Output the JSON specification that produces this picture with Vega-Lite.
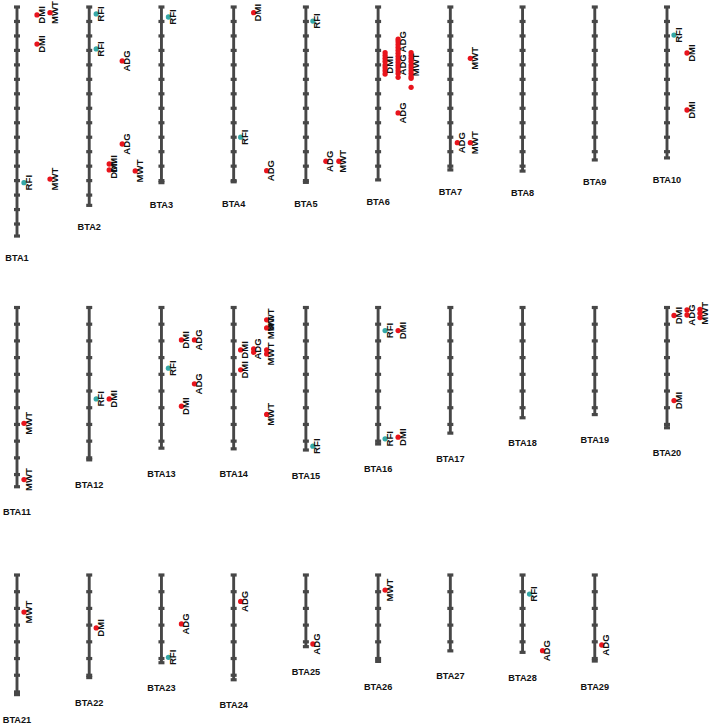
{
  "$schema": "https://vega.github.io/schema/vega-lite/v6.json",
  "autosize": {"type": "none"},
  "padding": {"left": 17, "top": 7, "right": 692, "bottom": 718},
  "background": "white",
  "bounds": "flush",
  "spacing": 68.5,
  "resolve": {"scale": {"y": "independent"}},
  "config": {"view": {"stroke": null}},
  "datasets": {
    "chroms": [
      {"chr": 1, "name": "BTA1", "length": 158.3, "ticks": [0,10,20,30,40,50,60,70,80,90,100,110,120,130,140,150]},
      {"chr": 2, "name": "BTA2", "length": 137.1, "ticks": [0,10,20,30,40,50,60,70,80,90,100,110,120,130]},
      {"chr": 3, "name": "BTA3", "length": 121.4, "ticks": [0,10,20,30,40,50,60,70,80,90,100,110,120]},
      {"chr": 4, "name": "BTA4", "length": 120.8, "ticks": [0,10,20,30,40,50,60,70,80,90,100,110,120]},
      {"chr": 5, "name": "BTA5", "length": 121.2, "ticks": [0,10,20,30,40,50,60,70,80,90,100,110,120]},
      {"chr": 6, "name": "BTA6", "length": 119.5, "ticks": [0,10,20,30,40,50,60,70,80,90,100,110]},
      {"chr": 7, "name": "BTA7", "length": 112.6, "ticks": [0,10,20,30,40,50,60,70,80,90,100,110]},
      {"chr": 8, "name": "BTA8", "length": 113.4, "ticks": [0,10,20,30,40,50,60,70,80,90,100,110]},
      {"chr": 9, "name": "BTA9", "length": 105.7, "ticks": [0,10,20,30,40,50,60,70,80,90,100]},
      {"chr": 10, "name": "BTA10", "length": 104.3, "ticks": [0,10,20,30,40,50,60,70,80,90,100]},
      {"chr": 11, "name": "BTA11", "length": 107.3, "ticks": [0,10,20,30,40,50,60,70,80,90,100]},
      {"chr": 12, "name": "BTA12", "length": 91.2, "ticks": [0,10,20,30,40,50,60,70,80,90]},
      {"chr": 13, "name": "BTA13", "length": 84.2, "ticks": [0,10,20,30,40,50,60,70,80]},
      {"chr": 14, "name": "BTA14", "length": 84.6, "ticks": [0,10,20,30,40,50,60,70,80]},
      {"chr": 15, "name": "BTA15", "length": 85.3, "ticks": [0,10,20,30,40,50,60,70,80]},
      {"chr": 16, "name": "BTA16", "length": 81.7, "ticks": [0,10,20,30,40,50,60,70,80]},
      {"chr": 17, "name": "BTA17", "length": 75.2, "ticks": [0,10,20,30,40,50,60,70]},
      {"chr": 18, "name": "BTA18", "length": 66.0, "ticks": [0,10,20,30,40,50,60]},
      {"chr": 19, "name": "BTA19", "length": 64.1, "ticks": [0,10,20,30,40,50,60]},
      {"chr": 20, "name": "BTA20", "length": 72.0, "ticks": [0,10,20,30,40,50,60,70]},
      {"chr": 21, "name": "BTA21", "length": 71.6, "ticks": [0,10,20,30,40,50,60,70]},
      {"chr": 22, "name": "BTA22", "length": 61.4, "ticks": [0,10,20,30,40,50,60]},
      {"chr": 23, "name": "BTA23", "length": 52.5, "ticks": [0,10,20,30,40,50]},
      {"chr": 24, "name": "BTA24", "length": 62.7, "ticks": [0,10,20,30,40,50,60]},
      {"chr": 25, "name": "BTA25", "length": 42.9, "ticks": [0,10,20,30,40]},
      {"chr": 26, "name": "BTA26", "length": 51.7, "ticks": [0,10,20,30,40,50]},
      {"chr": 27, "name": "BTA27", "length": 45.4, "ticks": [0,10,20,30,40]},
      {"chr": 28, "name": "BTA28", "length": 46.3, "ticks": [0,10,20,30,40]},
      {"chr": 29, "name": "BTA29", "length": 51.5, "ticks": [0,10,20,30,40,50]}
    ],
    "qtl": [
      {"chr": 1, "trait": "DMI", "mb": 5.5},
      {"chr": 1, "trait": "MWT", "mb": 3.9},
      {"chr": 1, "trait": "DMI", "mb": 25.6},
      {"chr": 1, "trait": "RFI", "mb": 121.4},
      {"chr": 1, "trait": "MWT", "mb": 118.9},
      {"chr": 2, "trait": "RFI", "mb": 4.8},
      {"chr": 2, "trait": "RFI", "mb": 29.0},
      {"chr": 2, "trait": "ADG", "mb": 37.3},
      {"chr": 2, "trait": "ADG", "mb": 94.7},
      {"chr": 2, "trait": "DMI", "mb": 108.5},
      {"chr": 2, "trait": "DMI", "mb": 112.6},
      {"chr": 2, "trait": "MWT", "mb": 113.3},
      {"chr": 3, "trait": "RFI", "mb": 6.9},
      {"chr": 4, "trait": "DMI", "mb": 3.9},
      {"chr": 4, "trait": "RFI", "mb": 90.0},
      {"chr": 4, "trait": "ADG", "mb": 113.1},
      {"chr": 5, "trait": "RFI", "mb": 9.7},
      {"chr": 5, "trait": "ADG", "mb": 106.6},
      {"chr": 5, "trait": "MWT", "mb": 106.6},
      {"chr": 6, "trait": "DMI", "mb": 31.6, "lead": false},
      {"chr": 6, "trait": "DMI", "mb": 33.6, "lead": false},
      {"chr": 6, "trait": "DMI", "mb": 35.6, "lead": false},
      {"chr": 6, "trait": "DMI", "mb": 37.6, "lead": false},
      {"chr": 6, "trait": "DMI", "mb": 40.0},
      {"chr": 6, "trait": "DMI", "mb": 42.0, "lead": false},
      {"chr": 6, "trait": "DMI", "mb": 44.0, "lead": false},
      {"chr": 6, "trait": "DMI", "mb": 46.3, "lead": false},
      {"chr": 6, "trait": "ADG", "mb": 22.3, "lead": false},
      {"chr": 6, "trait": "ADG", "mb": 24.0},
      {"chr": 6, "trait": "ADG", "mb": 26.0, "lead": false},
      {"chr": 6, "trait": "ADG", "mb": 28.0, "lead": false},
      {"chr": 6, "trait": "ADG", "mb": 30.0, "lead": false},
      {"chr": 6, "trait": "ADG", "mb": 32.0, "lead": false},
      {"chr": 6, "trait": "ADG", "mb": 34.0, "lead": false},
      {"chr": 6, "trait": "ADG", "mb": 36.0, "lead": false},
      {"chr": 6, "trait": "ADG", "mb": 38.0, "lead": false},
      {"chr": 6, "trait": "ADG", "mb": 40.0},
      {"chr": 6, "trait": "ADG", "mb": 42.0, "lead": false},
      {"chr": 6, "trait": "ADG", "mb": 44.0, "lead": false},
      {"chr": 6, "trait": "ADG", "mb": 46.0, "lead": false},
      {"chr": 6, "trait": "ADG", "mb": 48.6, "lead": false},
      {"chr": 6, "trait": "MWT", "mb": 31.6, "lead": false},
      {"chr": 6, "trait": "MWT", "mb": 33.6, "lead": false},
      {"chr": 6, "trait": "MWT", "mb": 35.6, "lead": false},
      {"chr": 6, "trait": "MWT", "mb": 37.6, "lead": false},
      {"chr": 6, "trait": "MWT", "mb": 40.0},
      {"chr": 6, "trait": "MWT", "mb": 42.0, "lead": false},
      {"chr": 6, "trait": "MWT", "mb": 44.0, "lead": false},
      {"chr": 6, "trait": "MWT", "mb": 46.0, "lead": false},
      {"chr": 6, "trait": "MWT", "mb": 48.0, "lead": false},
      {"chr": 6, "trait": "MWT", "mb": 49.3, "lead": false},
      {"chr": 6, "trait": "MWT", "mb": 55.5, "lead": false},
      {"chr": 6, "trait": "ADG", "mb": 73.2},
      {"chr": 7, "trait": "MWT", "mb": 35.5},
      {"chr": 7, "trait": "ADG", "mb": 93.8},
      {"chr": 7, "trait": "MWT", "mb": 93.8},
      {"chr": 10, "trait": "RFI", "mb": 19.4},
      {"chr": 10, "trait": "DMI", "mb": 31.8},
      {"chr": 10, "trait": "DMI", "mb": 71.2},
      {"chr": 11, "trait": "MWT", "mb": 69.3},
      {"chr": 11, "trait": "MWT", "mb": 103.0},
      {"chr": 12, "trait": "RFI", "mb": 54.7},
      {"chr": 12, "trait": "DMI", "mb": 54.7},
      {"chr": 13, "trait": "DMI", "mb": 19.4},
      {"chr": 13, "trait": "ADG", "mb": 19.4},
      {"chr": 13, "trait": "RFI", "mb": 36.3},
      {"chr": 13, "trait": "ADG", "mb": 45.7},
      {"chr": 13, "trait": "DMI", "mb": 59.1},
      {"chr": 14, "trait": "MWT", "mb": 7.4},
      {"chr": 14, "trait": "MWT", "mb": 12.2},
      {"chr": 14, "trait": "DMI", "mb": 25.4},
      {"chr": 14, "trait": "ADG", "mb": 24.8},
      {"chr": 14, "trait": "ADG", "mb": 26.8, "lead": false},
      {"chr": 14, "trait": "MWT", "mb": 25.4, "lead": false},
      {"chr": 14, "trait": "MWT", "mb": 27.8},
      {"chr": 14, "trait": "DMI", "mb": 37.3},
      {"chr": 14, "trait": "MWT", "mb": 64.0},
      {"chr": 15, "trait": "RFI", "mb": 83.0},
      {"chr": 16, "trait": "RFI", "mb": 13.8},
      {"chr": 16, "trait": "DMI", "mb": 13.8},
      {"chr": 16, "trait": "RFI", "mb": 78.6},
      {"chr": 16, "trait": "DMI", "mb": 77.6},
      {"chr": 20, "trait": "DMI", "mb": 4.8},
      {"chr": 20, "trait": "ADG", "mb": 1.5, "lead": false},
      {"chr": 20, "trait": "ADG", "mb": 4.5},
      {"chr": 20, "trait": "MWT", "mb": 1.2, "lead": false},
      {"chr": 20, "trait": "MWT", "mb": 3.5},
      {"chr": 20, "trait": "MWT", "mb": 6.0, "lead": false},
      {"chr": 20, "trait": "DMI", "mb": 55.7},
      {"chr": 21, "trait": "MWT", "mb": 22.2},
      {"chr": 22, "trait": "DMI", "mb": 31.7},
      {"chr": 23, "trait": "ADG", "mb": 29.3},
      {"chr": 23, "trait": "RFI", "mb": 49.3},
      {"chr": 24, "trait": "ADG", "mb": 15.8},
      {"chr": 25, "trait": "ADG", "mb": 41.3},
      {"chr": 26, "trait": "MWT", "mb": 9.0},
      {"chr": 28, "trait": "RFI", "mb": 11.4},
      {"chr": 28, "trait": "ADG", "mb": 45.3},
      {"chr": 29, "trait": "ADG", "mb": 41.9}
    ]
  },
  "vconcat": [
    {
      "width": 650, "height": 231.5,
      "layer": [
        {"data": {"name": "chroms"},
         "transform": [{"calculate": "floor((datum.chr-1)/10)", "as": "row"}, {"calculate": "(datum.chr-1)%10", "as": "col"}, {"filter": "datum.row == 0"}],
         "mark": {"type": "rule", "color": "#474747", "strokeWidth": 2.9},
         "encoding": {
           "x": {"field": "col", "type": "quantitative", "scale": {"domain": [0, 9], "nice": false, "zero": false}, "axis": null},
           "y": {"field": "length", "type": "quantitative", "scale": {"domain": [0, 160], "reverse": true, "nice": false, "zero": false}, "axis": null},
           "y2": {"datum": 0}}},
        {"data": {"name": "chroms"},
         "transform": [{"calculate": "floor((datum.chr-1)/10)", "as": "row"}, {"calculate": "(datum.chr-1)%10", "as": "col"}, {"filter": "datum.row == 0"}, {"flatten": ["ticks"], "as": ["tick"]}],
         "mark": {"type": "tick", "orient": "horizontal", "color": "#474747", "size": 6, "thickness": 3.2, "opacity": 1},
         "encoding": {
           "x": {"field": "col", "type": "quantitative", "axis": null},
           "y": {"field": "tick", "type": "quantitative", "axis": null}}},
        {"data": {"name": "chroms"},
         "transform": [{"calculate": "floor((datum.chr-1)/10)", "as": "row"}, {"calculate": "(datum.chr-1)%10", "as": "col"}, {"filter": "datum.row == 0"}],
         "mark": {"type": "tick", "orient": "horizontal", "color": "#474747", "size": 6, "thickness": 3.2, "opacity": 1},
         "encoding": {
           "x": {"field": "col", "type": "quantitative", "axis": null},
           "y": {"field": "length", "type": "quantitative", "axis": null}}},
        {"data": {"name": "qtl"},
         "transform": [{"calculate": "indexof(['RFI','DMI','ADG','MWT'], datum.trait)", "as": "torder"}, {"window": [{"op": "dense_rank", "as": "lane"}], "groupby": ["chr"], "sort": [{"field": "torder"}]}, {"calculate": "floor((datum.chr-1)/10)", "as": "row"}, {"calculate": "(datum.chr-1)%10 + (7 + 13*(datum.lane-1))/72.22", "as": "xpos"}, {"filter": "datum.row == 0"}],
         "mark": {"type": "circle", "size": 28, "opacity": 1},
         "encoding": {
           "x": {"field": "xpos", "type": "quantitative", "axis": null},
           "y": {"field": "mb", "type": "quantitative", "axis": null},
           "color": {"field": "trait", "type": "nominal", "scale": {"domain": ["RFI", "DMI", "ADG", "MWT"], "range": ["#35a7a7", "#e8141c", "#e8141c", "#e8141c"]}, "legend": null}}},
        {"data": {"name": "qtl"},
         "transform": [{"calculate": "indexof(['RFI','DMI','ADG','MWT'], datum.trait)", "as": "torder"}, {"window": [{"op": "dense_rank", "as": "lane"}], "groupby": ["chr"], "sort": [{"field": "torder"}]}, {"calculate": "floor((datum.chr-1)/10)", "as": "row"}, {"calculate": "(datum.chr-1)%10 + (7 + 13*(datum.lane-1))/72.22", "as": "xpos"}, {"filter": "datum.row == 0 && datum.lead !== false"}],
         "mark": {"type": "text", "angle": 270, "align": "center", "baseline": "middle", "dy": 4.5, "font": "Liberation Sans", "fontWeight": "bold", "fontSize": 9.6, "color": "#111111"},
         "encoding": {
           "x": {"field": "xpos", "type": "quantitative", "axis": null},
           "y": {"field": "mb", "type": "quantitative", "axis": null},
           "text": {"field": "trait"}}},
        {"data": {"name": "chroms"},
         "transform": [{"calculate": "floor((datum.chr-1)/10)", "as": "row"}, {"calculate": "(datum.chr-1)%10", "as": "col"}, {"filter": "datum.row == 0"}],
         "mark": {"type": "text", "align": "center", "baseline": "middle", "dy": 22, "font": "Liberation Sans", "fontWeight": "bold", "fontSize": 9.2, "color": "#111111"},
         "encoding": {
           "x": {"field": "col", "type": "quantitative", "axis": null},
           "y": {"field": "length", "type": "quantitative", "axis": null},
           "text": {"field": "name"}}}
      ]
    },
    {
      "width": 650, "height": 198.8,
      "layer": [
        {"data": {"name": "chroms"},
         "transform": [{"calculate": "floor((datum.chr-1)/10)", "as": "row"}, {"calculate": "(datum.chr-1)%10", "as": "col"}, {"filter": "datum.row == 1"}],
         "mark": {"type": "rule", "color": "#474747", "strokeWidth": 2.9},
         "encoding": {
           "x": {"field": "col", "type": "quantitative", "scale": {"domain": [0, 9], "nice": false, "zero": false}, "axis": null},
           "y": {"field": "length", "type": "quantitative", "scale": {"domain": [0, 119], "reverse": true, "nice": false, "zero": false}, "axis": null},
           "y2": {"datum": 0}}},
        {"data": {"name": "chroms"},
         "transform": [{"calculate": "floor((datum.chr-1)/10)", "as": "row"}, {"calculate": "(datum.chr-1)%10", "as": "col"}, {"filter": "datum.row == 1"}, {"flatten": ["ticks"], "as": ["tick"]}],
         "mark": {"type": "tick", "orient": "horizontal", "color": "#474747", "size": 6, "thickness": 3.2, "opacity": 1},
         "encoding": {
           "x": {"field": "col", "type": "quantitative", "axis": null},
           "y": {"field": "tick", "type": "quantitative", "axis": null}}},
        {"data": {"name": "chroms"},
         "transform": [{"calculate": "floor((datum.chr-1)/10)", "as": "row"}, {"calculate": "(datum.chr-1)%10", "as": "col"}, {"filter": "datum.row == 1"}],
         "mark": {"type": "tick", "orient": "horizontal", "color": "#474747", "size": 6, "thickness": 3.2, "opacity": 1},
         "encoding": {
           "x": {"field": "col", "type": "quantitative", "axis": null},
           "y": {"field": "length", "type": "quantitative", "axis": null}}},
        {"data": {"name": "qtl"},
         "transform": [{"calculate": "indexof(['RFI','DMI','ADG','MWT'], datum.trait)", "as": "torder"}, {"window": [{"op": "dense_rank", "as": "lane"}], "groupby": ["chr"], "sort": [{"field": "torder"}]}, {"calculate": "floor((datum.chr-1)/10)", "as": "row"}, {"calculate": "(datum.chr-1)%10 + (7 + 13*(datum.lane-1))/72.22", "as": "xpos"}, {"filter": "datum.row == 1"}],
         "mark": {"type": "circle", "size": 28, "opacity": 1},
         "encoding": {
           "x": {"field": "xpos", "type": "quantitative", "axis": null},
           "y": {"field": "mb", "type": "quantitative", "axis": null},
           "color": {"field": "trait", "type": "nominal", "scale": {"domain": ["RFI", "DMI", "ADG", "MWT"], "range": ["#35a7a7", "#e8141c", "#e8141c", "#e8141c"]}, "legend": null}}},
        {"data": {"name": "qtl"},
         "transform": [{"calculate": "indexof(['RFI','DMI','ADG','MWT'], datum.trait)", "as": "torder"}, {"window": [{"op": "dense_rank", "as": "lane"}], "groupby": ["chr"], "sort": [{"field": "torder"}]}, {"calculate": "floor((datum.chr-1)/10)", "as": "row"}, {"calculate": "(datum.chr-1)%10 + (7 + 13*(datum.lane-1))/72.22", "as": "xpos"}, {"filter": "datum.row == 1 && datum.lead !== false"}],
         "mark": {"type": "text", "angle": 270, "align": "center", "baseline": "middle", "dy": 4.5, "font": "Liberation Sans", "fontWeight": "bold", "fontSize": 9.6, "color": "#111111"},
         "encoding": {
           "x": {"field": "xpos", "type": "quantitative", "axis": null},
           "y": {"field": "mb", "type": "quantitative", "axis": null},
           "text": {"field": "trait"}}},
        {"data": {"name": "chroms"},
         "transform": [{"calculate": "floor((datum.chr-1)/10)", "as": "row"}, {"calculate": "(datum.chr-1)%10", "as": "col"}, {"filter": "datum.row == 1"}],
         "mark": {"type": "text", "align": "center", "baseline": "middle", "dy": 25.5, "font": "Liberation Sans", "fontWeight": "bold", "fontSize": 9.2, "color": "#111111"},
         "encoding": {
           "x": {"field": "col", "type": "quantitative", "axis": null},
           "y": {"field": "length", "type": "quantitative", "axis": null},
           "text": {"field": "name"}}}
      ]
    },
    {
      "width": 650, "height": 125.3,
      "layer": [
        {"data": {"name": "chroms"},
         "transform": [{"calculate": "floor((datum.chr-1)/10)", "as": "row"}, {"calculate": "(datum.chr-1)%10", "as": "col"}, {"filter": "datum.row == 2"}],
         "mark": {"type": "rule", "color": "#474747", "strokeWidth": 2.9},
         "encoding": {
           "x": {"field": "col", "type": "quantitative", "scale": {"domain": [0, 9], "nice": false, "zero": false}, "axis": null},
           "y": {"field": "length", "type": "quantitative", "scale": {"domain": [0, 75], "reverse": true, "nice": false, "zero": false}, "axis": null},
           "y2": {"datum": 0}}},
        {"data": {"name": "chroms"},
         "transform": [{"calculate": "floor((datum.chr-1)/10)", "as": "row"}, {"calculate": "(datum.chr-1)%10", "as": "col"}, {"filter": "datum.row == 2"}, {"flatten": ["ticks"], "as": ["tick"]}],
         "mark": {"type": "tick", "orient": "horizontal", "color": "#474747", "size": 6, "thickness": 3.2, "opacity": 1},
         "encoding": {
           "x": {"field": "col", "type": "quantitative", "axis": null},
           "y": {"field": "tick", "type": "quantitative", "axis": null}}},
        {"data": {"name": "chroms"},
         "transform": [{"calculate": "floor((datum.chr-1)/10)", "as": "row"}, {"calculate": "(datum.chr-1)%10", "as": "col"}, {"filter": "datum.row == 2"}],
         "mark": {"type": "tick", "orient": "horizontal", "color": "#474747", "size": 6, "thickness": 3.2, "opacity": 1},
         "encoding": {
           "x": {"field": "col", "type": "quantitative", "axis": null},
           "y": {"field": "length", "type": "quantitative", "axis": null}}},
        {"data": {"name": "qtl"},
         "transform": [{"calculate": "indexof(['RFI','DMI','ADG','MWT'], datum.trait)", "as": "torder"}, {"window": [{"op": "dense_rank", "as": "lane"}], "groupby": ["chr"], "sort": [{"field": "torder"}]}, {"calculate": "floor((datum.chr-1)/10)", "as": "row"}, {"calculate": "(datum.chr-1)%10 + (7 + 13*(datum.lane-1))/72.22", "as": "xpos"}, {"filter": "datum.row == 2"}],
         "mark": {"type": "circle", "size": 28, "opacity": 1},
         "encoding": {
           "x": {"field": "xpos", "type": "quantitative", "axis": null},
           "y": {"field": "mb", "type": "quantitative", "axis": null},
           "color": {"field": "trait", "type": "nominal", "scale": {"domain": ["RFI", "DMI", "ADG", "MWT"], "range": ["#35a7a7", "#e8141c", "#e8141c", "#e8141c"]}, "legend": null}}},
        {"data": {"name": "qtl"},
         "transform": [{"calculate": "indexof(['RFI','DMI','ADG','MWT'], datum.trait)", "as": "torder"}, {"window": [{"op": "dense_rank", "as": "lane"}], "groupby": ["chr"], "sort": [{"field": "torder"}]}, {"calculate": "floor((datum.chr-1)/10)", "as": "row"}, {"calculate": "(datum.chr-1)%10 + (7 + 13*(datum.lane-1))/72.22", "as": "xpos"}, {"filter": "datum.row == 2 && datum.lead !== false"}],
         "mark": {"type": "text", "angle": 270, "align": "center", "baseline": "middle", "dy": 4.5, "font": "Liberation Sans", "fontWeight": "bold", "fontSize": 9.6, "color": "#111111"},
         "encoding": {
           "x": {"field": "xpos", "type": "quantitative", "axis": null},
           "y": {"field": "mb", "type": "quantitative", "axis": null},
           "text": {"field": "trait"}}},
        {"data": {"name": "chroms"},
         "transform": [{"calculate": "floor((datum.chr-1)/10)", "as": "row"}, {"calculate": "(datum.chr-1)%10", "as": "col"}, {"filter": "datum.row == 2"}],
         "mark": {"type": "text", "align": "center", "baseline": "middle", "dy": 25.5, "font": "Liberation Sans", "fontWeight": "bold", "fontSize": 9.2, "color": "#111111"},
         "encoding": {
           "x": {"field": "col", "type": "quantitative", "axis": null},
           "y": {"field": "length", "type": "quantitative", "axis": null},
           "text": {"field": "name"}}}
      ]
    }
  ]
}
